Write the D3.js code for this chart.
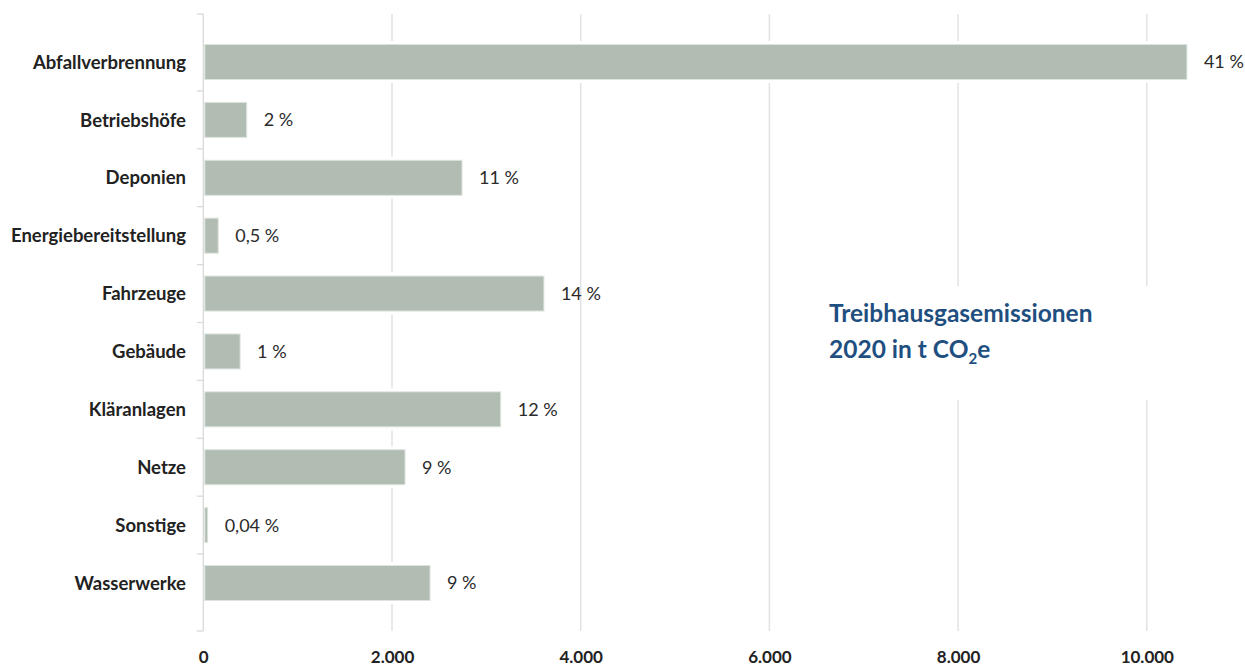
<!DOCTYPE html>
<html lang="de">
<head>
<meta charset="utf-8">
<title>Treibhausgasemissionen 2020</title>
<script src="https://cdn.jsdelivr.net/npm/d3@7"></script>
<style>
  html, body { margin: 0; padding: 0; background: #ffffff; }
  svg { display: block; }
</style>
</head>
<body>
<svg id="chart" width="1245" height="666"></svg>
<script>
// Emissionen je Bereich, t CO2e (2020)
const categories = [
  "Abfallverbrennung", "Betriebshöfe", "Deponien", "Energiebereitstellung",
  "Fahrzeuge", "Gebäude", "Kläranlagen", "Netze", "Sonstige", "Wasserwerke"
];
const emissions = [10425, 460, 2742, 158, 3610, 390, 3152, 2138, 46, 2403];
const shareLabels = ["41 %", "2 %", "11 %", "0,5 %", "14 %", "1 %", "12 %", "9 %", "0,04 %", "9 %"];
const xTicks = [0, 2000, 4000, 6000, 8000, 10000];
const titleLines = ["Treibhausgasemissionen", "2020 in t CO"];

const svg = d3.select("#chart");
const FONT = "Lato, 'Open Sans', sans-serif";

const de = d3.formatLocale({ decimal: ",", thousands: ".", grouping: [3], currency: ["", " €"] });
const fmt = de.format(",");

const x = d3.scaleLinear().domain([0, 10000]).range([203.3, 1146.8]);
const y = d3.scalePoint().domain(categories).range([62, 583]);
const barH = 35;
const axisTop = 14, axisBottom = 631;

// vertical gridlines
svg.append("g")
  .selectAll("line")
  .data(xTicks.filter(d => d > 0))
  .join("line")
  .attr("x1", d => x(d)).attr("x2", d => x(d))
  .attr("y1", axisTop).attr("y2", axisBottom)
  .attr("stroke", "#e2e2e2")
  .attr("stroke-width", 1.5);

// white panel behind the title interrupts the gridlines
svg.append("rect")
  .attr("x", 812).attr("y", 286)
  .attr("width", 433).attr("height", 114)
  .attr("fill", "#ffffff");

// category axis line with separator ticks
const axisG = svg.append("g").attr("stroke", "#d9d9d9").attr("stroke-width", 1.3);
axisG.append("line")
  .attr("x1", x(0)).attr("x2", x(0))
  .attr("y1", axisTop).attr("y2", axisBottom);
const sepYs = [axisTop]
  .concat(categories.slice(1).map((c, i) => (y(categories[i]) + y(c)) / 2))
  .concat([axisBottom]);
axisG.selectAll("line.sep")
  .data(sepYs)
  .join("line")
  .attr("class", "sep")
  .attr("x1", x(0) - 6.5).attr("x2", x(0))
  .attr("y1", d => d).attr("y2", d => d);

// bars
const rows = categories.map((c, i) => ({ c, v: emissions[i], lab: shareLabels[i] }));
const barG = svg.append("g");
barG.selectAll("rect.halo")
  .data(rows)
  .join("rect")
  .attr("class", "halo")
  .attr("x", x(0) + 1)
  .attr("y", d => y(d.c) - barH / 2 - 3.5)
  .attr("width", d => x(d.v) - x(0) + 2)
  .attr("height", barH + 7)
  .attr("fill", "#ffffff");
barG.selectAll("rect.bar")
  .data(rows)
  .join("rect")
  .attr("class", "bar")
  .attr("x", x(0) + 1.5)
  .attr("y", d => y(d.c) - barH / 2)
  .attr("width", d => Math.max(1, x(d.v) - x(0) - 1.5))
  .attr("height", barH)
  .attr("fill", "#b1bcb2")
  .attr("stroke", "#dde4de")
  .attr("stroke-width", 1);

// share labels
svg.append("g")
  .selectAll("text")
  .data(rows)
  .join("text")
  .attr("x", d => x(d.v) + 17)
  .attr("y", d => y(d.c))
  .attr("dy", "0.36em")
  .attr("font-family", FONT)
  .attr("font-size", 18)
  .attr("fill", "#2b2b2b")
  .text(d => d.lab);

// category labels
svg.append("g")
  .selectAll("text")
  .data(categories)
  .join("text")
  .attr("x", 186)
  .attr("y", d => y(d))
  .attr("dy", "0.36em")
  .attr("text-anchor", "end")
  .attr("font-family", FONT)
  .attr("font-weight", 700)
  .attr("font-size", 18.5)
  .attr("fill", "#222222")
  .text(d => d);

// value axis
const xAxis = d3.axisBottom(x).tickValues(xTicks).tickFormat(fmt).tickSize(0).tickPadding(0);
const xg = svg.append("g").attr("transform", `translate(0, ${axisBottom})`).call(xAxis);
xg.select(".domain").remove();
xg.selectAll("text")
  .attr("y", 32)
  .attr("dy", 0)
  .attr("font-family", FONT)
  .attr("font-weight", 700)
  .attr("font-size", 17)
  .attr("fill", "#222222");

// chart title
const title = svg.append("text")
  .attr("x", 829).attr("y", 321.5)
  .attr("font-family", FONT)
  .attr("font-weight", 700)
  .attr("font-size", 24.5)
  .attr("fill", "#1f4f80");
title.append("tspan").attr("x", 829).text(titleLines[0]);
title.append("tspan").attr("x", 829).attr("dy", 36.5).text(titleLines[1]);
title.append("tspan").attr("font-size", 15).attr("dy", 6).text("2");
title.append("tspan").attr("dy", -6).text("e");
</script>
</body>
</html>
